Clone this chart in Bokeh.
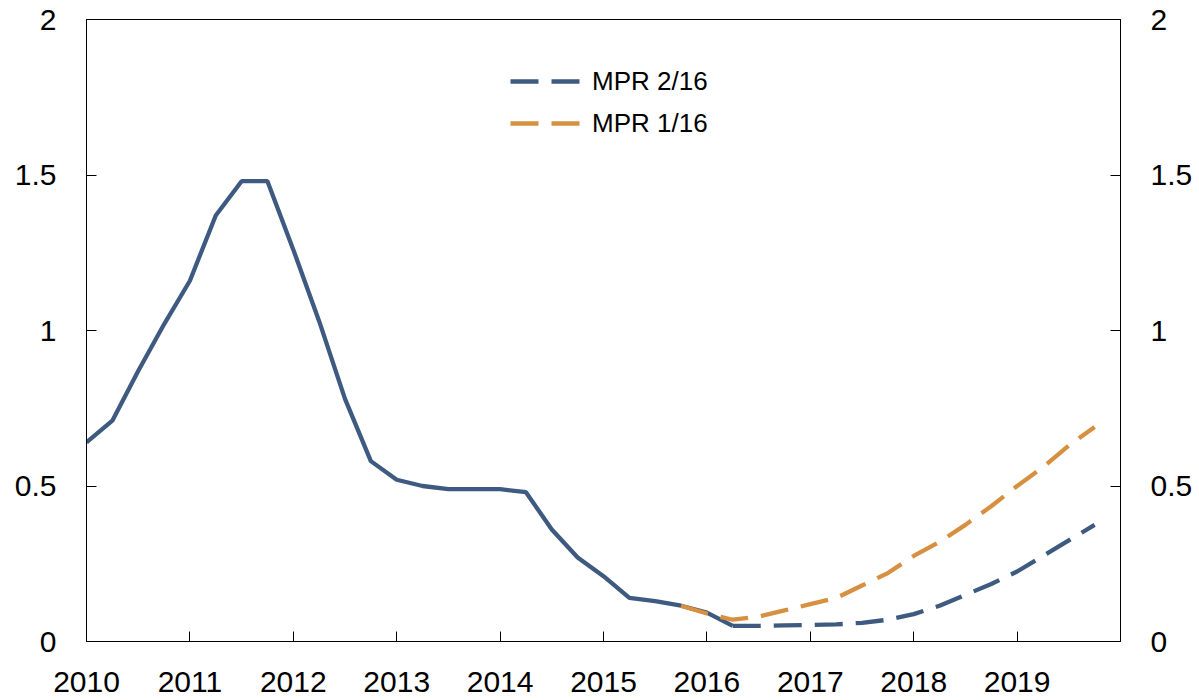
from bokeh.plotting import figure
from bokeh.models import LinearAxis, FixedTicker, NumeralTickFormatter, Legend, LegendItem, Range1d
from bokeh.embed import file_html
from bokeh.resources import INLINE

# ---- data ----
hist_x = [2010.0, 2010.25, 2010.5, 2010.75, 2011.0, 2011.25, 2011.5, 2011.75,
          2012.0, 2012.25, 2012.5, 2012.75, 2013.0, 2013.25, 2013.5, 2013.75,
          2014.0, 2014.25, 2014.5, 2014.75, 2015.0, 2015.25, 2015.5, 2015.75,
          2016.0, 2016.25]
hist_y = [0.64, 0.71, 0.87, 1.02, 1.16, 1.37, 1.48, 1.48,
          1.26, 1.03, 0.78, 0.58, 0.52, 0.50, 0.49, 0.49,
          0.49, 0.48, 0.36, 0.27, 0.21, 0.14, 0.13, 0.115,
          0.093, 0.05]

mpr216_x = [2016.25, 2016.5, 2016.75, 2017.0, 2017.25, 2017.5, 2017.75,
            2018.0, 2018.25, 2018.5, 2018.75, 2019.0, 2019.25, 2019.5, 2019.75]
mpr216_y = [0.05, 0.05, 0.052, 0.053, 0.055, 0.06, 0.07,
            0.088, 0.115, 0.15, 0.185, 0.225, 0.275, 0.325, 0.375]

mpr116_x = [2015.75, 2016.0, 2016.25, 2016.5, 2016.75, 2017.0, 2017.25, 2017.5,
            2017.75, 2018.0, 2018.25, 2018.5, 2018.75, 2019.0, 2019.25, 2019.5, 2019.75]
mpr116_y = [0.115, 0.09, 0.07, 0.08, 0.10, 0.12, 0.14, 0.18,
            0.22, 0.275, 0.32, 0.375, 0.435, 0.50, 0.56, 0.63, 0.69]

year_ticks = [2010, 2011, 2012, 2013, 2014, 2015, 2016, 2017, 2018, 2019]
y_ticks = [0, 0.5, 1, 1.5, 2]
series_labels = ["MPR 2/16", "MPR 1/16"]

BLUE = "#3e5a80"
ORANGE = "#d69040"
FONT = "Liberation Sans"

p = figure(frame_width=1034, frame_height=622,
           x_range=Range1d(2010, 2020), y_range=Range1d(0, 2),
           output_backend="svg", toolbar_location=None,
           min_border_left=86, min_border_right=79,
           min_border_top=19, min_border_bottom=59,
           y_axis_location="left")
p.xgrid.visible = False
p.ygrid.visible = False
p.outline_line_color = "black"
p.outline_line_width = 1
p.background_fill_color = "white"
p.border_fill_color = "white"

def style_axis(ax, standoff):
    ax.axis_line_color = "black"
    ax.axis_line_width = 1
    ax.major_tick_in = 10
    ax.major_tick_out = 0
    ax.minor_tick_line_color = None
    ax.major_tick_line_color = "black"
    ax.major_label_text_font = FONT
    ax.major_label_text_font_size = "30px"
    ax.major_label_text_color = "black"
    ax.major_label_standoff = standoff

# bottom axis
xa = p.xaxis[0]
xa.ticker = FixedTicker(ticks=year_ticks)
style_axis(xa, 30)

# left axis
ya = p.yaxis[0]
ya.ticker = FixedTicker(ticks=y_ticks)
ya.formatter = NumeralTickFormatter(format="0.[0]")
style_axis(ya, 30)

# right axis
ra = LinearAxis(ticker=FixedTicker(ticks=y_ticks),
                formatter=NumeralTickFormatter(format="0.[0]"))
style_axis(ra, 30)
p.add_layout(ra, "right")

r_hist = p.line(hist_x, hist_y, line_color=BLUE, line_width=4.3)
r116 = p.line(mpr116_x, mpr116_y, line_color=ORANGE, line_width=4.3,
              line_dash="28 13")
r216 = p.line(mpr216_x, mpr216_y, line_color=BLUE, line_width=4.3,
              line_dash="28 13")

legend = Legend(items=[LegendItem(label=series_labels[0], renderers=[r216]),
                       LegendItem(label=series_labels[1], renderers=[r116])],
                location=(424, 497))
legend.glyph_width = 70
legend.glyph_height = 42
legend.label_height = 42
legend.spacing = 0
legend.padding = 0
legend.margin = 0
legend.label_standoff = 12
legend.border_line_color = None
legend.background_fill_color = None
legend.background_fill_alpha = 0
legend.label_text_font = FONT
legend.label_text_font_size = "26px"
legend.label_text_color = "black"
p.add_layout(legend, "center")

open("out.html", "w").write(file_html(p, INLINE))
